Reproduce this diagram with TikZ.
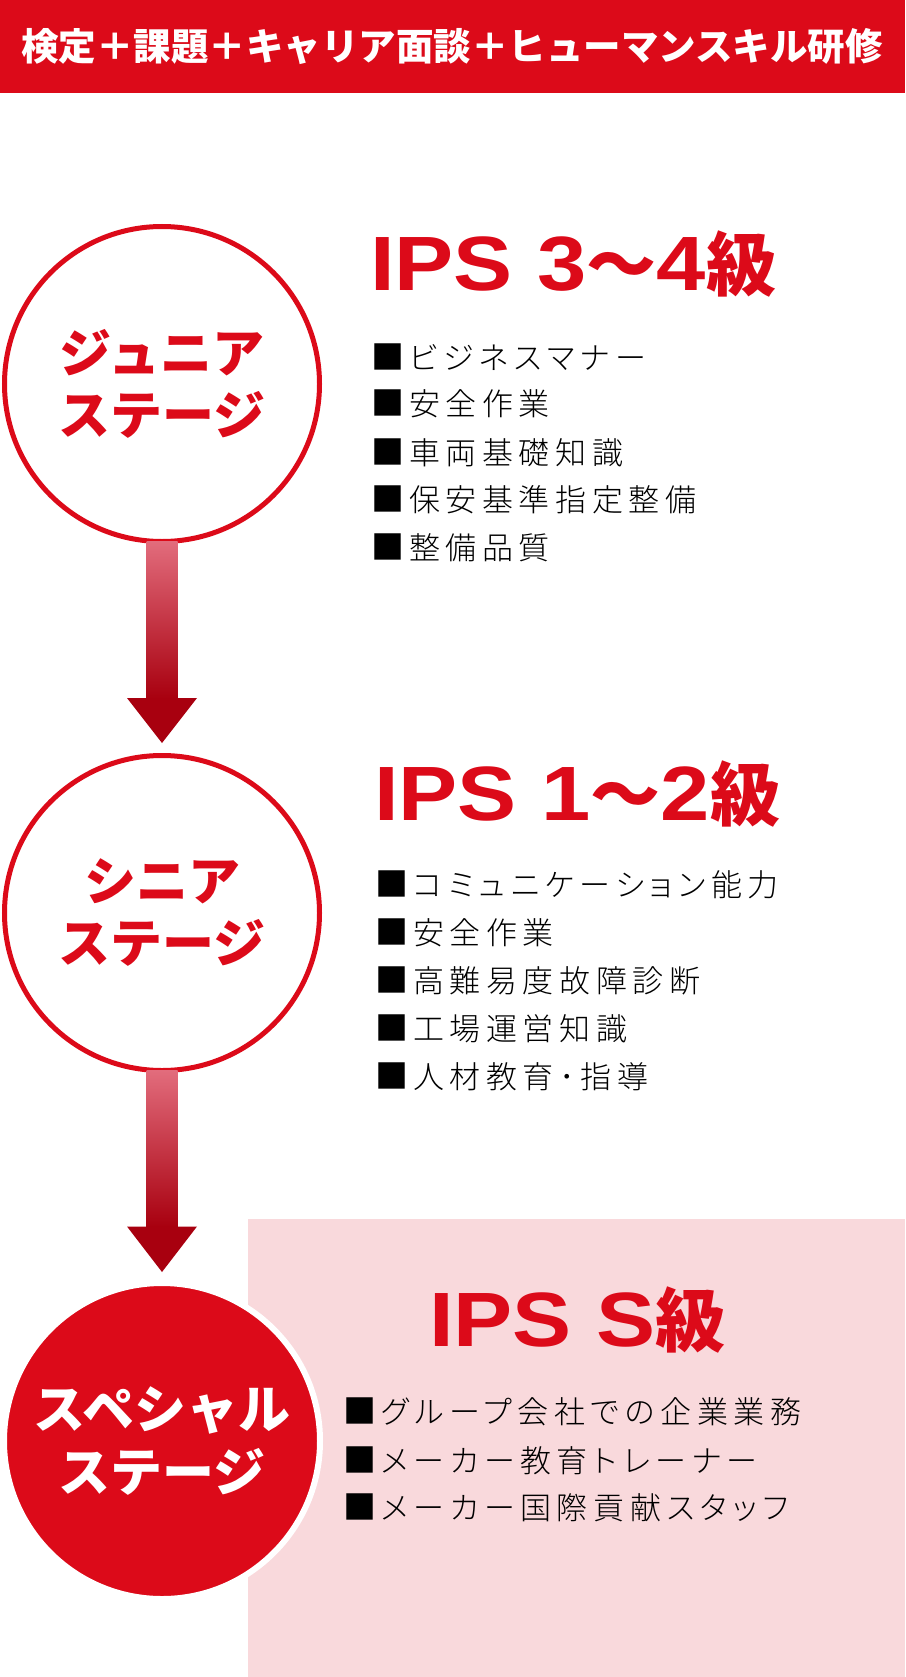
\documentclass[tikz,border=0pt]{standalone}
\usepackage{fontspec}
\setmainfont{Liberation Sans}
\newfontfamily\headfont{Liberation Sans}[FakeStretch=1.15]
\newfontfamily\jp{Noto Sans CJK JP}
\IfFontExistsTF{Noto Sans CJK JP Light}
  {\newfontfamily\jplist{Noto Sans CJK JP Light}[LetterSpace=18, RawFeature=+palt]}
  {\newfontfamily\jplist{Noto Sans CJK JP}[LetterSpace=18, RawFeature=+palt]}
\definecolor{ipsred}{HTML}{DC0A19}
\definecolor{arrtop}{HTML}{E26C7C}
\definecolor{arrbot}{HTML}{A8000F}
\definecolor{pinkbg}{HTML}{F9D9DC}
\newcommand{\cjkhead}[1]{{\jp\bfseries\fontsize{70}{70}\selectfont #1}}
\newcommand{\sq}{{\fontsize{33}{31}\selectfont ■}\kern5pt}
\tikzset{
  stagering/.style={circle, minimum size=315pt, inner sep=0pt, outer sep=0pt, draw=ipsred, line width=5pt, fill=white, text=ipsred, align=center, font=\jp\bfseries\fontsize{52}{62}\selectfont},
  stagefull/.style={circle, minimum size=316pt, inner sep=0pt, outer sep=0pt, draw=white, line width=6pt, fill=ipsred, text=white, align=center, font=\jp\bfseries\fontsize{52}{63}\selectfont},
  headline/.style={anchor=base west, inner sep=0pt, text=ipsred, font=\headfont\bfseries\fontsize{77}{77}\selectfont},
  item/.style={anchor=west, inner sep=0pt, text=black, font=\jplist\fontsize{31}{31}\selectfont},
  shaft/.style={top color=arrtop, bottom color=arrbot},
  head/.style={fill=arrbot}
}
\begin{document}
\begin{tikzpicture}[x=1pt,y=-1pt]
\useasboundingbox (0,0) rectangle (905,1677);
% banner
\fill[ipsred] (0,0) rectangle (905,93);
\node[inner sep=0pt, text=white, font=\jp\bfseries\fontsize{37.5}{37.5}\selectfont] (banner) at (452,47) {検定＋課題＋キャリア面談＋ヒューマンスキル研修};
% pink panel
\fill[pinkbg] (248,1219) rectangle (905,1677);
% stage circles
\node[stagering] (c1) at (162,384) {ジュニア\\ステージ};
\node[stagering] (c2) at (162,913) {シニア\\ステージ};
\node[stagefull] (c3) at (162,1441) {スペシャル\\ステージ};
% arrows c1 -> c2
\shade[shaft] ([xshift=-15.5pt]c1.south) rectangle ([xshift=15.5pt,yshift=57pt]c2.north);
\fill[head] ([xshift=-35pt,yshift=57.5pt]c2.north) -- ([xshift=35pt,yshift=57.5pt]c2.north) -- ([yshift=12.5pt]c2.north) -- cycle;
% arrows c2 -> c3
\shade[shaft] ([xshift=-15.5pt]c2.south) rectangle ([xshift=15.5pt,yshift=56pt]c3.north);
\fill[head] ([xshift=-35pt,yshift=56.5pt]c3.north) -- ([xshift=35pt,yshift=56.5pt]c3.north) -- ([yshift=11pt]c3.north) -- cycle;
% headlines
\node[headline] (h1) at (370,291) {IPS 3\cjkhead{～}4\cjkhead{級}};
\node[headline] (h2) at (374,820) {IPS 1\cjkhead{～}2\cjkhead{級}};
\node[headline] (h3) at (429,1346) {IPS S\cjkhead{級}};
% list 1
\node[item] (a1) at (371,357) {\sq ビジネスマナー};
\node[item] (a2) at (371,404) {\sq 安全作業};
\node[item] (a3) at (371,453) {\sq 車両基礎知識};
\node[item] (a4) at (371,500) {\sq 保安基準指定整備};
\node[item] (a5) at (371,548) {\sq 整備品質};
% list 2
\node[item] (b1) at (375,885) {\sq コミュニケーション能力};
\node[item] (b2) at (375,933) {\sq 安全作業};
\node[item] (b3) at (375,981) {\sq 高難易度故障診断};
\node[item] (b4) at (375,1029) {\sq 工場運営知識};
\node[item] (b5) at (375,1077) {\sq 人材教育･指導};
% list 3
\node[item] (d1) at (343,1412) {\sq グループ会社での企業業務};
\node[item] (d2) at (343,1461) {\sq メーカー教育トレーナー};
\node[item] (d3) at (343,1508) {\sq メーカー国際貢献スタッフ};
\end{tikzpicture}
\end{document}
